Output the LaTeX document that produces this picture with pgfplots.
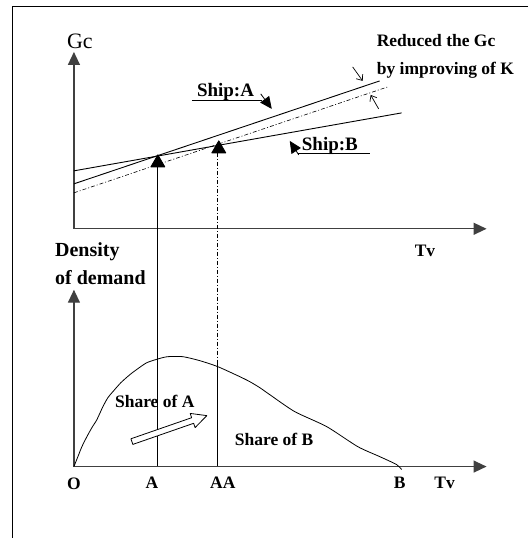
\documentclass[border=0pt]{standalone}
\usepackage{fontspec}
\setmainfont{Liberation Serif}
\usepackage{pgfplots}
\pgfplotsset{compat=1.18}
\usetikzlibrary{arrows.meta}

\newcommand\lab{\fontsize{17.5}{20}\selectfont\bfseries}
\newcommand\shiplab{\fontsize{19}{21}\selectfont\bfseries}

\begin{document}
\begin{tikzpicture}
\begin{axis}[
    scale only axis, width=529pt, height=538pt,
    xmin=0, xmax=529, ymin=0, ymax=538, y dir=reverse,
    hide axis, clip=false,
    every axis plot/.append style={line width=0.9pt, line join=round, mark=none},
    axline/.style={black!75, line width=1.3pt, -{Triangle[length=13pt,width=12pt]}},
    dashdot/.style={line width=0.6pt, dash pattern=on 4pt off 2pt on 1pt off 2pt},
]
% page extent
\addplot[draw=none] coordinates {(0,0) (529,538)};
% frame (top and left only)
\addplot[black, line width=1pt] coordinates {(528.5,6.5) (12.5,6.5) (12.5,538)};

% --- upper panel: Gc against Tv
\addplot[axline] coordinates {(74,229) (74,52)};
\addplot[axline] coordinates {(74,229) (487,229)};
\addplot[black] coordinates {(74,184) (380,81)};   % Ship A
\addplot[black] coordinates {(74,171) (402,113)};  % Ship B
\addplot[black, dashdot] coordinates {(74,193) (388,87)}; % improved K
% crossing points
\addplot[black, mark=triangle*, mark size=8pt, only marks] coordinates {(158,163) (219,149)};
% drop lines to lower panel
\addplot[black] coordinates {(158,165) (158,467)};
\addplot[black, dashdot] coordinates {(218,153) (218,362)};
\addplot[black] coordinates {(218,362) (218,467)};

% annotations upper panel
\addplot[black, line width=0.8pt] coordinates {(192,100) (262,100)};
\addplot[black, line width=0.8pt, -{Triangle[length=12pt,width=11pt]}] coordinates {(261,94) (272,109)};
\addplot[black, line width=0.8pt] coordinates {(370,154) (298,154)};
\addplot[black, line width=0.8pt, -{Triangle[length=12pt,width=11pt]}] coordinates {(299,155) (290,141)};
\addplot[black, line width=0.7pt, -{Straight Barb[length=5pt,width=8pt]}] coordinates {(353,67) (363,81)};
\addplot[black, line width=0.7pt, -{Straight Barb[length=5pt,width=8pt]}] coordinates {(379,109) (371,95)};

\node[anchor=center, font=\fontsize{22}{24}\selectfont] at (axis cs:80,41) {Gc};
\node[anchor=base west, font=\lab, inner sep=0pt] at (axis cs:377,47) {Reduced the Gc};
\node[anchor=base west, font=\lab, inner sep=0pt] at (axis cs:377,75) {by improving of K};
\node[anchor=base west, font=\shiplab, inner sep=0pt] at (axis cs:197,97) {Ship:A};
\node[anchor=base west, font=\shiplab, inner sep=0pt] at (axis cs:302,151) {Ship:B};
\node[anchor=base west, font=\lab, inner sep=0pt] at (axis cs:415,257) {Tv};
\node[anchor=base west, font=\fontsize{20}{22}\selectfont\bfseries, inner sep=0pt] at (axis cs:55,257) {Density};
\node[anchor=base west, font=\fontsize{20}{22}\selectfont\bfseries, inner sep=0pt] at (axis cs:55,285) {of demand};

% --- lower panel: density of demand against Tv
\addplot[axline] coordinates {(74,467) (74,290)};
\addplot[axline] coordinates {(74,467) (487,467)};
\addplot[black, line width=0.8pt, smooth, tension=0.4] coordinates {
    (74,467) (76,462) (78,457) (82,447) (87,437) (92,428) (97,420) (103,407)
    (108,398) (113,392) (121,383) (130,375) (138,369) (147,363) (159,359)
    (168,357) (183,357) (200,361) (218,367) (240,377) (250,382) (260,388)
    (270,395) (295,412) (327,427) (358,447) (380,457) (397,465) (402,470)
};
% hollow arrow: share of A grows
\addplot[black, line width=0.8pt, fill=white] coordinates {
    (131.0,439.2) (191.8,418.1) (190.4,413.8) (207,416) (195.3,428.0)
    (193.8,423.7) (133.0,444.8) (131.0,439.2)
};

\node[anchor=base west, font=\lab, inner sep=0pt] at (axis cs:115,408) {Share of A};
\node[anchor=base west, font=\lab, inner sep=0pt] at (axis cs:235,446) {Share of B};
\node[anchor=base, font=\lab, inner sep=0pt] at (axis cs:74,490) {O};
\node[anchor=base, font=\lab, inner sep=0pt] at (axis cs:152,489) {A};
\node[anchor=base, font=\lab, inner sep=0pt] at (axis cs:223,489) {AA};
\node[anchor=base, font=\lab, inner sep=0pt] at (axis cs:400,489) {B};
\node[anchor=base, font=\lab, inner sep=0pt] at (axis cs:445,489) {Tv};
\end{axis}
\end{tikzpicture}
\end{document}
